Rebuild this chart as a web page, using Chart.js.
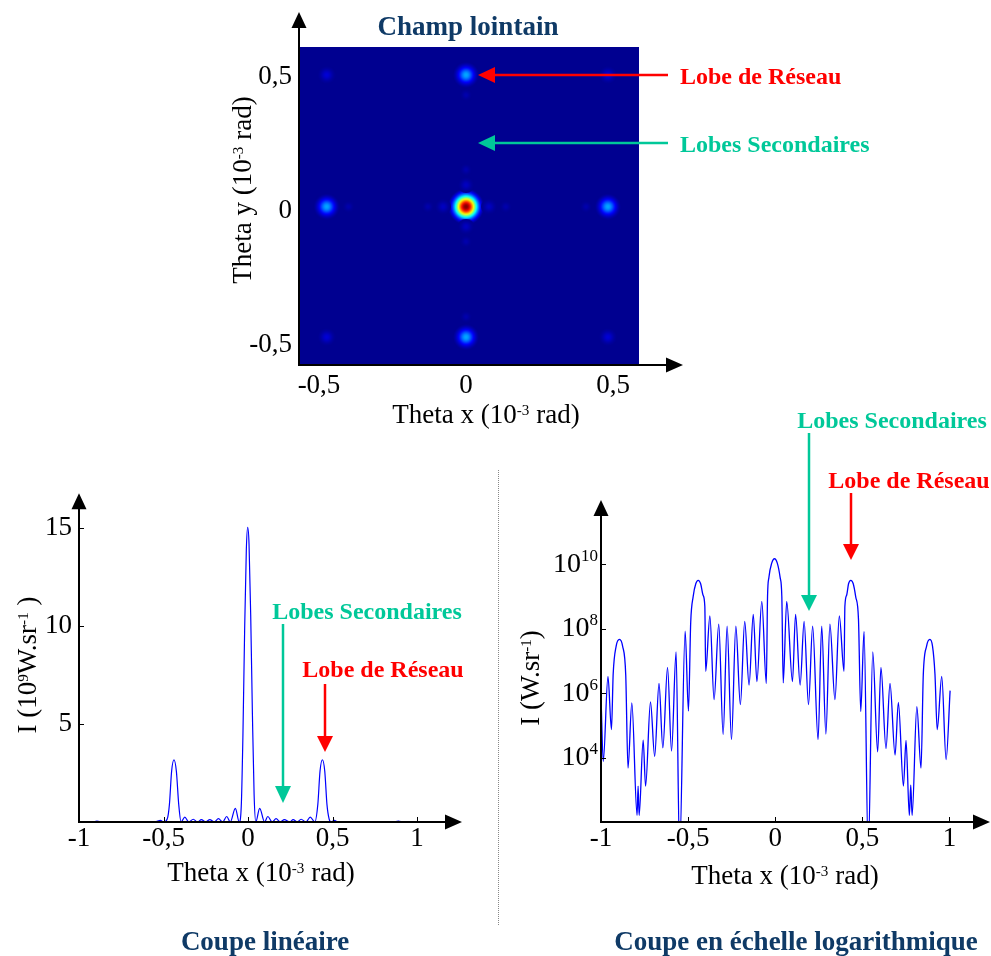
<!DOCTYPE html>
<html>
<head>
<meta charset="utf-8">
<script src="https://cdn.jsdelivr.net/npm/chart.js@4.4.0/dist/chart.umd.min.js"></script>
<style>
  body { margin: 0; background: #fff; }
  #page { position: relative; width: 991px; height: 956px; overflow: hidden; font-family: "Liberation Serif", "Times New Roman", serif; }
  canvas { position: absolute; }
  .t { position: absolute; white-space: nowrap; line-height: 1; transform: translate(-50%, -50%); }
  .l { transform: translate(0, -50%); }
  .rot { transform: translate(-50%, -50%) rotate(-90deg); }
  .title { font-weight: bold; font-size: 27px; color: #0f3a66; }
  .axis { font-size: 27px; color: #000; }
  .ann { font-weight: bold; font-size: 24px; }
  .red { color: #ff0000; }
  .green { color: #00c899; }
  sup { font-size: 56%; position: relative; top: -0.55em; vertical-align: baseline; }
  #sep { position: absolute; left: 498px; top: 470px; height: 455px; border-left: 1px dotted #888; }
  svg { position: absolute; left: 0; top: 0; }
</style>
</head>
<body>
<div id="page">
  <canvas id="map" width="500" height="430" style="left:200px;top:0px"></canvas>
  <canvas id="lin" width="490" height="430" style="left:0px;top:470px"></canvas>
  <canvas id="log" width="491" height="430" style="left:500px;top:470px"></canvas>
  <div id="sep"></div>

  <svg width="991" height="956">
    <g stroke-width="2.5">
      <line x1="668" y1="75" x2="492" y2="75" stroke="#ff0000"/>
      <polygon points="478,75 495,67 495,83" fill="#ff0000"/>
      <line x1="668" y1="143" x2="492" y2="143" stroke="#00c899"/>
      <polygon points="478,143 495,135 495,151" fill="#00c899"/>

      <line x1="283" y1="624" x2="283" y2="789" stroke="#00c899"/>
      <polygon points="283,803 275,786 291,786" fill="#00c899"/>
      <line x1="325" y1="684" x2="325" y2="738" stroke="#ff0000"/>
      <polygon points="325,752 317,736 333,736" fill="#ff0000"/>

      <line x1="809" y1="433" x2="809" y2="597" stroke="#00c899"/>
      <polygon points="809,611 801,595 817,595" fill="#00c899"/>
      <line x1="851" y1="493" x2="851" y2="546" stroke="#ff0000"/>
      <polygon points="851,560 843,544 859,544" fill="#ff0000"/>
    </g>
  </svg>

  <div class="t title" style="left:468px;top:26px">Champ lointain</div>
  <div class="t l ann red" style="left:680px;top:76px">Lobe de Réseau</div>
  <div class="t l ann green" style="left:680px;top:144px">Lobes Secondaires</div>
  <div class="t axis" style="left:486px;top:414px">Theta x (10<sup>-3</sup> rad)</div>
  <div class="t axis rot" style="left:242px;top:190px">Theta y (10<sup>-3</sup> rad)</div>

  <div class="t ann green" style="left:367px;top:611px">Lobes Secondaires</div>
  <div class="t ann red" style="left:383px;top:669px">Lobe de Réseau</div>
  <div class="t axis" style="left:261px;top:872px">Theta x (10<sup>-3</sup> rad)</div>
  <div class="t axis rot" style="left:27px;top:665px">I (10<sup>9</sup>W.sr<sup>-1</sup> )</div>
  <div class="t title" style="left:265px;top:941px">Coupe linéaire</div>

  <div class="t ann green" style="left:892px;top:420px">Lobes Secondaires</div>
  <div class="t ann red" style="left:909px;top:480px">Lobe de Réseau</div>
  <div class="t axis" style="left:785px;top:875px">Theta x (10<sup>-3</sup> rad)</div>
  <div class="t axis rot" style="left:530px;top:678px">I (W.sr<sup>-1</sup>)</div>
  <div class="t title" style="left:796px;top:941px">Coupe en échelle logarithmique</div>
</div>

<script>
// far field spots (theta x, theta y in 1e-3 rad), level = normalised intensity
const spotX = [0, -0.474, 0.482, 0, 0, -0.474, 0.482, -0.474, 0.482, -0.078, 0.078, 0, 0, -0.13, 0.135, 0, 0, -0.40, 0.408, 0, 0];
const spotY = [0.016, 0.016, 0.016, 0.507, -0.47, 0.507, 0.507, -0.47, -0.47, 0.016, 0.016, 0.097, -0.058, 0.016, 0.016, 0.154, -0.114, 0.016, 0.016, 0.432, -0.394];
const spotLevel = [1, 0.28, 0.28, 0.28, 0.28, 0.07, 0.07, 0.07, 0.07, 0.05, 0.05, 0.05, 0.05, 0.03, 0.03, 0.03, 0.03, 0.03, 0.03, 0.03, 0.03];
const mapTicks = [-0.5, 0, 0.5];

// linear cut, I in 1e9 W/sr
const linX = [
  -1, -0.92, -0.894, -0.86,
  -0.55, -0.518, -0.499,
  -0.478, -0.465, -0.452, -0.438, -0.424, -0.41, -0.396,
  -0.374, -0.351, -0.324, -0.299, -0.276, -0.251, -0.226, -0.2, -0.175, -0.15, -0.126, -0.105, -0.075, -0.052,
  -0.04, -0.03, -0.02, -0.01, -0.002, 0.006, 0.016, 0.026, 0.036, 0.046,
  0.069, 0.098, 0.117, 0.143, 0.166, 0.191, 0.215, 0.246, 0.267, 0.291, 0.314, 0.343, 0.368, 0.395,
  0.413, 0.426, 0.44, 0.454, 0.467, 0.48,
  0.492, 0.51, 0.534, 0.86, 0.889, 0.92, 1
];
const linI = [
  0, 0, 0.05, 0,
  0, 0.085, 0,
  0.15, 0.9, 2.6, 3.18, 2.6, 0.9, 0,
  0.25, 0, 0.14, 0, 0.12, 0, 0.12, 0, 0.17, 0, 0.28, 0, 0.7, 0,
  0.8, 4.5, 9.8, 13.9, 15.05, 14.2, 10.5, 5.5, 1.4, 0,
  0.7, 0, 0.28, 0, 0.17, 0, 0.12, 0, 0.12, 0, 0.14, 0, 0.25, 0,
  0.9, 2.6, 3.18, 2.6, 0.9, 0.15,
  0, 0.085, 0, 0, 0.05, 0, 0
];
const linXTicks = [-1, -0.5, 0, 0.5, 1];
const linYTicks = [5, 10, 15];

// log cut, I in W/sr
const logX = [
  -1, -0.987, -0.96, -0.94,
  -0.93, -0.913, -0.894, -0.876, -0.858, -0.845,
  -0.823, -0.793, -0.787, -0.781, -0.758, -0.744, -0.716, -0.692, -0.667, -0.645, -0.618, -0.595, -0.569, -0.549, -0.517, -0.498,
  -0.485, -0.471, -0.456, -0.442, -0.428, -0.414, -0.404, -0.399,
  -0.375, -0.351, -0.324, -0.299, -0.276, -0.251, -0.226, -0.2, -0.175, -0.15, -0.126, -0.105, -0.077, -0.051,
  -0.044, -0.036, -0.02, -0.004, 0.012, 0.028, 0.038, 0.046,
  0.066, 0.099, 0.117, 0.143, 0.166, 0.191, 0.215, 0.246, 0.267, 0.291, 0.314, 0.343, 0.368, 0.395,
  0.4, 0.41, 0.421, 0.434, 0.448, 0.462, 0.478, 0.491,
  0.51, 0.534, 0.56, 0.588, 0.607, 0.636, 0.659, 0.688, 0.707, 0.736, 0.751, 0.77, 0.778, 0.786, 0.813, 0.837,
  0.85, 0.869, 0.888, 0.903, 0.917, 0.93,
  0.956, 0.981, 1.004
];
const logI = [
  8.1e5, 7.6e3, 3.3e6, 7.4e4,
  4.0e6, 2.9e7, 4.7e7, 2.9e7, 3.7e6, 4.7e3,
  5.0e5, 1.6e2, 1.3e3, 1.6e2, 3.5e4, 1.3e3, 5.4e5, 1.1e4, 2.0e6, 2.0e4, 6.3e6, 1.6e4, 1.9e7, 10, 8.5e7, 2.8e5,
  1.6e8, 1.0e9, 2.5e9, 3.2e9, 2.5e9, 1.1e9, 5.0e8, 4.8e6,
  2.5e8, 6.3e5, 1.4e8, 5.2e4, 1.2e8, 3.6e4, 1.2e8, 4.4e5, 1.7e8, 1.8e6, 2.8e8, 2.3e6, 7.1e8, 2.0e6,
  1.0e9, 4.0e9, 1.1e10, 1.5e10, 1.1e10, 4.0e9, 1.0e9, 2.1e6,
  7.1e8, 2.3e6, 2.8e8, 1.8e6, 1.7e8, 4.4e5, 1.2e8, 3.6e4, 1.2e8, 5.4e4, 1.4e8, 6.3e5, 2.5e8, 4.8e6,
  5.0e8, 1.1e9, 2.5e9, 3.2e9, 2.5e9, 1.0e9, 2.0e8, 2.7e5,
  8.3e7, 10, 1.9e7, 1.5e4, 6.3e6, 1.9e4, 2.0e6, 1.2e4, 5.2e5, 1.3e3, 3.4e4, 1.6e2, 1.4e3, 1.6e2, 3.8e5, 4.7e3,
  3.7e6, 2.9e7, 4.7e7, 2.9e7, 4.0e6, 7.4e4,
  3.3e6, 8.7e3, 1.2e6
];
const logXTicks = [-1, -0.5, 0, 0.5, 1];
const logYTicks = [1e4, 1e6, 1e8, 1e10];

const serif = '"Liberation Serif", "Times New Roman", serif';
Chart.defaults.font.family = serif;
Chart.defaults.color = '#000';

const fmt = v => String(v).replace('.', ',');
const setTicks = list => scale => { scale.ticks = list.map(v => ({ value: v })); };

// jet colour map
function jet(v) {
  v = 0.016 + 0.984 * Math.max(0, Math.min(1, v));
  const c = t => Math.round(255 * Math.max(0, Math.min(1, 1.5 - Math.abs(4 * v - t))));
  return 'rgb(' + c(3) + ',' + c(2) + ',' + c(1) + ')';
}

function spotRadius(level) {
  if (level >= 0.5) return 18;
  if (level >= 0.2) return 13;
  if (level >= 0.06) return 9;
  if (level >= 0.05) return 8;
  return 6;
}

// one small sprite per level, drawn by chart.js as the point style
const sprites = {};
function spotSprite(level) {
  if (sprites[level]) return sprites[level];
  const r = spotRadius(level);
  const cv = document.createElement('canvas');
  cv.width = cv.height = 2 * r;
  const ctx = cv.getContext('2d');
  const g = ctx.createRadialGradient(r, r, 0, r, r, r);
  const e = Math.exp(-2.6);
  for (let k = 0; k <= 12; k++) {
    const f = k / 12;
    g.addColorStop(f, jet(level * (Math.exp(-2.6 * f * f) - e) / (1 - e)));
  }
  ctx.fillStyle = g;
  ctx.beginPath();
  ctx.arc(r, r, r, 0, Math.PI * 2);
  ctx.fill();
  sprites[level] = cv;
  return cv;
}

const mapBackground = {
  id: 'mapBackground',
  beforeDatasetsDraw(chart) {
    const a = chart.chartArea;
    chart.ctx.save();
    chart.ctx.fillStyle = jet(0);
    chart.ctx.fillRect(a.left, a.top, a.right - a.left, a.bottom - a.top);
    chart.ctx.restore();
  }
};

// black axes with arrow heads, optional inward tick marks
function axesPlugin(extX, extY, tickMarks) {
  return {
    id: 'arrowAxes',
    afterDatasetsDraw(chart) {
      const ctx = chart.ctx;
      const a = chart.chartArea;
      const tipX = a.right + extX;
      const tipY = a.top - extY;
      ctx.save();
      ctx.strokeStyle = '#000';
      ctx.fillStyle = '#000';
      ctx.lineWidth = 2;
      ctx.beginPath();
      ctx.moveTo(a.left - 1, a.bottom);
      ctx.lineTo(tipX - 10, a.bottom);
      ctx.moveTo(a.left, a.bottom + 1);
      ctx.lineTo(a.left, tipY + 10);
      ctx.stroke();
      if (tickMarks) {
        ctx.lineWidth = 1;
        ctx.beginPath();
        chart.scales.x.ticks.forEach(t => {
          const x = Math.round(chart.scales.x.getPixelForValue(t.value)) + 0.5;
          if (x > a.left + 2) { ctx.moveTo(x, a.bottom); ctx.lineTo(x, a.bottom - 5); }
        });
        chart.scales.y.ticks.forEach(t => {
          const y = Math.round(chart.scales.y.getPixelForValue(t.value)) + 0.5;
          ctx.moveTo(a.left, y); ctx.lineTo(a.left + 5, y);
        });
        ctx.stroke();
      }
      ctx.beginPath();
      ctx.moveTo(tipX, a.bottom);
      ctx.lineTo(tipX - 17, a.bottom - 7.5);
      ctx.lineTo(tipX - 17, a.bottom + 7.5);
      ctx.closePath();
      ctx.moveTo(a.left, tipY);
      ctx.lineTo(a.left - 7.5, tipY + 16);
      ctx.lineTo(a.left + 7.5, tipY + 16);
      ctx.closePath();
      ctx.fill();
      ctx.restore();
    }
  };
}

// 10^n labels for the log axis
const powerLabels = {
  id: 'powerLabels',
  afterDraw(chart) {
    const s = chart.scales.y;
    const ctx = chart.ctx;
    ctx.save();
    ctx.fillStyle = '#000';
    ctx.textBaseline = 'middle';
    ctx.textAlign = 'left';
    s.ticks.forEach(t => {
      const y = s.getPixelForValue(t.value);
      const e = String(Math.round(Math.log10(t.value)));
      ctx.font = '28px ' + serif;
      const wb = ctx.measureText('10').width;
      ctx.font = '17px ' + serif;
      const we = ctx.measureText(e).width;
      const x0 = s.right - 3 - wb - we;
      ctx.font = '28px ' + serif;
      ctx.fillText('10', x0, y);
      ctx.font = '17px ' + serif;
      ctx.fillText(e, x0 + wb, y - 8);
    });
    ctx.restore();
  }
};

const tickFont = { size: 27 };
const noGrid = { display: false, drawTicks: false };
const common = {
  responsive: false,
  animation: false,
  events: [],
  plugins: { legend: { display: false }, tooltip: { enabled: false } }
};

new Chart(document.getElementById('map'), {
  type: 'scatter',
  data: {
    datasets: [{
      data: spotX.map((x, i) => ({ x: x, y: spotY[i] })),
      pointStyle: c => c.type === 'data' ? spotSprite(spotLevel[c.dataIndex]) : 'circle',
      pointRadius: c => c.type === 'data' ? spotRadius(spotLevel[c.dataIndex]) : 5,
      borderWidth: 0
    }]
  },
  options: Object.assign({}, common, {
    layout: { padding: { left: 0, right: 61, top: 47, bottom: 0 } },
    scales: {
      x: {
        type: 'linear', min: -0.568, max: 0.588,
        afterBuildTicks: setTicks(mapTicks),
        afterFit: s => { s.height = 65; },
        grid: noGrid, border: { display: false },
        ticks: { font: tickFont, padding: 5, autoSkip: false, maxRotation: 0, callback: fmt }
      },
      y: {
        type: 'linear', min: -0.574, max: 0.611,
        afterBuildTicks: setTicks(mapTicks),
        afterFit: s => { s.width = 99; },
        grid: noGrid, border: { display: false },
        ticks: { font: tickFont, padding: 7, autoSkip: false, callback: fmt }
      }
    }
  }),
  plugins: [mapBackground, axesPlugin(44, 35, false)]
});

new Chart(document.getElementById('lin'), {
  type: 'line',
  data: {
    datasets: [{
      data: linX.map((x, i) => ({ x: x, y: linI[i] })),
      borderColor: '#0000ff',
      borderWidth: 1.2,
      pointRadius: 0,
      fill: false,
      cubicInterpolationMode: 'monotone'
    }]
  },
  options: Object.assign({}, common, {
    layout: { padding: { left: 0, right: 28, top: 23, bottom: 0 } },
    scales: {
      x: {
        type: 'linear', min: -1, max: 1.266,
        afterBuildTicks: setTicks(linXTicks),
        afterFit: s => { s.height = 78; },
        grid: noGrid, border: { display: false },
        ticks: { font: tickFont, padding: 1, autoSkip: false, maxRotation: 0, callback: fmt }
      },
      y: {
        type: 'linear', min: 0, max: 16.79,
        afterBuildTicks: setTicks(linYTicks),
        afterFit: s => { s.width = 79; },
        grid: noGrid, border: { display: false },
        ticks: { font: tickFont, padding: 7, autoSkip: false, callback: fmt }
      }
    }
  }),
  plugins: [axesPlugin(0, 0, true)]
});

new Chart(document.getElementById('log'), {
  type: 'line',
  data: {
    datasets: [{
      data: logX.map((x, i) => ({ x: x, y: logI[i] })),
      borderColor: '#0000ff',
      borderWidth: 1.3,
      pointRadius: 0,
      fill: false,
      cubicInterpolationMode: 'monotone'
    }]
  },
  options: Object.assign({}, common, {
    layout: { padding: { left: 0, right: 1, top: 30, bottom: 0 } },
    scales: {
      x: {
        type: 'linear', min: -1, max: 1.233,
        afterBuildTicks: setTicks(logXTicks),
        afterFit: s => { s.height = 78; },
        grid: noGrid, border: { display: false },
        ticks: { font: tickFont, padding: 1, autoSkip: false, maxRotation: 0, callback: fmt }
      },
      y: {
        type: 'logarithmic', min: 1e2, max: 1e12,
        afterBuildTicks: setTicks(logYTicks),
        afterFit: s => { s.width = 101; },
        grid: noGrid, border: { display: false },
        ticks: { display: false }
      }
    }
  }),
  plugins: [axesPlugin(0, 0, true), powerLabels]
});
</script>
</body>
</html>
